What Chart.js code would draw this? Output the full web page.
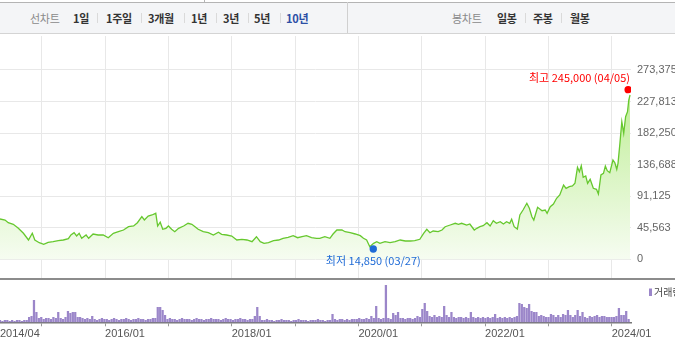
<!DOCTYPE html>
<html><head><meta charset="utf-8">
<script src="https://cdn.jsdelivr.net/npm/chart.js@4.4.1/dist/chart.umd.min.js"></script>
<style>
html,body{margin:0;padding:0;background:#fff;width:675px;height:359px;overflow:hidden;position:relative;}
#bar{position:absolute;left:0;top:2px;width:675px;height:32px;background:#f4f5f7;border-top:1px solid #b4b4b4;border-bottom:1px solid #d4d4d4;box-sizing:border-box;}
.t{position:absolute;top:11px;height:14px;line-height:14px;font-family:"Noto Sans CJK KR","Noto Sans",sans-serif;font-size:11px;white-space:nowrap;color:#333;font-weight:bold;letter-spacing:-0.3px;}
.g{color:#8a8a8a;font-weight:normal;}
.b{color:#2c4fa5;}
.s{position:absolute;top:13px;width:1px;height:10px;background:#dadada;}
#vsep{position:absolute;left:347px;top:2px;width:1px;height:31px;background:#d0d0d0;}
#tick0{position:absolute;left:204px;top:0;width:1px;height:2px;background:#b4b4b4;}
#sep2{position:absolute;left:0;top:278px;width:675px;height:2px;background:#8c8c8c;}
canvas{position:absolute;left:0;}
#main{top:36px;}
#vol{top:279px;}
</style></head>
<body>
<div id="tick0"></div>
<div id="bar"></div>
<div id="vsep"></div>
<span class="t g" style="left:30px">선차트</span>
<span class="t" style="left:73px">1일</span><div class="s" style="left:97px"></div>
<span class="t" style="left:106px">1주일</span><div class="s" style="left:141px"></div>
<span class="t" style="left:148px">3개월</span><div class="s" style="left:184px"></div>
<span class="t" style="left:191px">1년</span><div class="s" style="left:216px"></div>
<span class="t" style="left:223px">3년</span><div class="s" style="left:248px"></div>
<span class="t" style="left:254px">5년</span><div class="s" style="left:280px"></div>
<span class="t b" style="left:286px">10년</span>
<span class="t g" style="left:452px">봉차트</span>
<span class="t" style="left:497px">일봉</span><div class="s" style="left:525px"></div>
<span class="t" style="left:533px">주봉</span><div class="s" style="left:561px"></div>
<span class="t" style="left:570px">월봉</span>
<canvas id="main" width="675" height="243"></canvas>
<div id="sep2"></div>
<canvas id="vol" width="675" height="80"></canvas>
<script>
// ---- data (dates as decimal years) ----
const priceDates = [
2014.34,2014.42,2014.47,2014.55,2014.63,2014.71,2014.79,2014.85,2014.89,2014.96,
2015.03,2015.10,2015.18,2015.26,2015.34,2015.42,2015.46,2015.51,2015.55,2015.59,
2015.63,2015.70,2015.74,2015.81,2015.89,2015.97,2016.05,2016.13,2016.21,2016.29,
2016.37,2016.45,2016.51,2016.58,2016.62,2016.68,2016.74,2016.80,2016.83,2016.87,
2016.91,2016.96,2017.00,2017.05,2017.10,2017.16,2017.24,2017.31,2017.37,2017.42,
2017.47,2017.55,2017.63,2017.71,2017.79,2017.84,2017.92,2018.00,2018.08,2018.16,
2018.24,2018.32,2018.39,2018.45,2018.51,2018.58,2018.66,2018.74,2018.81,2018.89,
2018.97,2019.04,2019.11,2019.18,2019.26,2019.34,2019.39,2019.47,2019.55,2019.60,
2019.66,2019.74,2019.79,2019.87,2019.95,2020.03,2020.08,2020.13,2020.18,2020.24,
2020.29,2020.34,2020.42,2020.50,2020.58,2020.66,2020.74,2020.82,2020.89,2020.97,
2021.03,2021.08,2021.13,2021.18,2021.26,2021.32,2021.37,2021.45,2021.53,2021.58,
2021.63,2021.71,2021.76,2021.83,2021.87,2021.92,2021.97,2022.03,2022.08,2022.13,
2022.18,2022.24,2022.29,2022.34,2022.39,2022.42,2022.46,2022.51,2022.55,2022.60,
2022.66,2022.70,2022.74,2022.77,2022.83,2022.90,2022.95,2022.98,2023.03,2023.08,
2023.13,2023.18,2023.24,2023.28,2023.33,2023.38,2023.42,2023.46,2023.49,2023.52,
2023.55,2023.59,2023.62,2023.66,2023.71,2023.76,2023.79,2023.83,2023.87,2023.90,
2023.93,2023.97,2024.02,2024.05,2024.08,2024.10,2024.13,2024.16,2024.19,2024.22,
2024.25,2024.27,2024.29];
const priceValues = [
58200,56750,52850,50540,44770,37550,27870,37550,27870,23970,
21660,24550,25420,26860,27870,29750,35090,38410,33650,37550,
30330,35090,30330,36540,35090,35090,31190,37550,39860,42310,
47080,48090,52850,61520,56750,62530,63970,66430,48090,53500,
43320,44770,48090,43320,39860,44770,48090,51990,50540,47080,
43320,39860,38410,35090,38990,36100,35090,33650,27870,28880,
27870,25420,32640,25420,23110,23970,26860,27870,30330,31770,
34080,31190,32640,34080,31190,30330,30330,32640,30330,36540,
42310,42310,39860,38410,36540,34080,30330,27870,18200,23110,
25420,23110,25420,23970,25420,27870,26430,26430,26860,28880,
37550,43320,38410,40870,39860,42310,47080,49530,51990,50540,
51990,49530,50980,42310,44770,47080,48520,52850,48090,55740,
51990,54300,50980,54300,51990,57760,47080,43760,63970,71190,
80870,73650,61520,56750,75090,70180,71190,66430,75960,79860,
88090,92860,107300,102530,104840,105850,109750,132860,126500,135170,
118420,120290,109750,115530,102530,101090,94300,121740,124190,134730,
127950,125060,143400,139500,129970,138630,167520,198710,181960,205930,
213150,230050,237270];
const highDate = 2024.26, highValue = 245000, highText = '최고 245,000 (04/05)';
const lowDate = 2020.235, lowValue = 14850, lowText = '최저 14,850 (03/27)';
// biweekly trading volume (relative units)
const volStart = 2014.34, volStep = 14/365.25;
const volumes = [
2,1,2,2,1,2,1,2,2,1,2,2,5,6,22,10,4,5,3,4,4,3,5,4,10,4,3,5,11,9,10,10,5,5,4,3,4,3,6,
3,2,3,4,3,3,2,3,4,3,2,3,3,4,3,2,3,3,4,3,3,2,3,3,4,
4,15,15,12,7,
3,4,3,3,2,3,4,3,3,3,2,3,4,3,3,2,3,3,4,3,3,3,2,3,4,3,3,2,3,3,4,3,3,2,3,3,
6,15,6,
2,2,3,2,2,1,2,2,3,2,2,2,1,2,2,3,2,2,2,1,2,2,2,3,2,2,1,2,2,
8,3,2,3,3,2,3,2,3,3,3,4,3,3,4,3,
6,4,16,4,3,4,37,4,3,9,7,10,4,4,3,4,4,3,4,6,5,13,19,11,6,5,7,5,6,
5,16,7,5,10,5,4,5,5,4,5,4,10,5,4,5,4,5,4,5,4,5,8,4,5,4,5,4,5,4,5,6,
19,18,15,14,18,11,10,10,6,7,6,
5,5,8,7,5,7,5,8,7,12,7,5,7,12,6,10,5,4,6,5,6,7,5,6,6,5,5,5,5,6,14,7,7,11,3];
const gridYears = [2015,2016,2017,2018,2019,2020,2021,2022,2023,2024];
const yTicks = [0,45562.5,91125,136687.5,182250,227812.5,273375];
const xLabelValues = [2014.34,2016,2018,2020,2022,2024];
const xLabelTexts = ['2014/04','2016/01','2018/01','2020/01','2022/01','2024/01'];
const volLegend = '거래량';

// ---- scale ranges ----
const xMin = 2014.34, xMax = 2024.305;
const yMin = -28450, yMax = 322475;
const volMax = 41.3;

const annotPlugin = {
  id:'annot',
  afterDatasetsDraw(chart){
    const ctx = chart.ctx, a = chart.chartArea;
    const hp = chart.getDatasetMeta(1).data[0], lp = chart.getDatasetMeta(2).data[0];
    ctx.save();
    ctx.font = '11px "Noto Sans CJK KR", "Noto Sans", sans-serif';
    ctx.textBaseline = 'middle';
    ctx.fillStyle = '#ff0000'; ctx.textAlign = 'right';
    ctx.fillText(highText, a.right - 1, hp.y - 12);
    ctx.fillStyle = '#1f6bd6'; ctx.textAlign = 'center';
    ctx.fillText(lowText, lp.x, lp.y + 12);
    ctx.restore();
  }
};

new Chart(document.getElementById('main'), {
  type:'line',
  data:{datasets:[
    {data: priceDates.map((d,i)=>({x:d,y:priceValues[i]})), borderColor:'#66c82e', borderWidth:1.3,
     pointRadius:0, tension:0, fill:{value:0}, order:3,
     backgroundColor:(c)=>{const ch=c.chart; if(!ch.chartArea) return 'rgba(0,0,0,0)'; const ys=ch.scales.y;
       const g=ch.ctx.createLinearGradient(0, ys.getPixelForValue(Math.max(...priceValues)), 0, ys.getPixelForValue(0));
       g.addColorStop(0,'#c0ee98'); g.addColorStop(1,'#f6fcf1'); return g;}},
    {data:[{x:highDate,y:highValue}], showLine:false, pointRadius:3.7, pointBackgroundColor:'#ff0000', pointBorderWidth:0, order:1},
    {data:[{x:lowDate,y:lowValue}], showLine:false, pointRadius:3.7, pointBackgroundColor:'#1f6bd6', pointBorderWidth:0, order:2}
  ]},
  options:{
    responsive:false, animation:false, events:[],
    layout:{padding:0, autoPadding:false},
    plugins:{legend:{display:false}, tooltip:{enabled:false}},
    scales:{
      x:{type:'linear', min:xMin, max:xMax, grid:{color:'#e8e8e8', drawTicks:false}, border:{display:false},
         ticks:{display:false}, afterBuildTicks:s=>{s.ticks=gridYears.map(v=>({value:v}));},
         afterFit:s=>{s.height=0; s.paddingLeft=0; s.paddingRight=0;}},
      y:{position:'right', min:yMin, max:yMax, grid:{color:'#e8e8e8', drawTicks:false}, border:{display:false},
         ticks:{padding:6, color:'#666', font:{family:'Liberation Sans', size:11}, callback:v=>Math.round(v).toLocaleString('en-US')},
         afterBuildTicks:s=>{s.ticks=yTicks.map(v=>({value:v}));},
         afterFit:s=>{s.width=44; s.paddingTop=0; s.paddingBottom=0;}}
    }
  },
  plugins:[annotPlugin]
});

const legendPlugin = {
  id:'volLegend',
  afterDraw(chart){
    const ctx = chart.ctx, a = chart.chartArea;
    ctx.save();
    ctx.fillStyle = '#9b86c9';
    ctx.fillRect(a.right + 18, a.top + 7.5, 3, 7.5);
    ctx.fillStyle = '#444';
    ctx.font = '10px "Noto Sans CJK KR", sans-serif';
    ctx.textBaseline = 'middle'; ctx.textAlign = 'left';
    ctx.fillText(volLegend, a.right + 23, a.top + 11.5);
    ctx.restore();
  }
};

new Chart(document.getElementById('vol'), {
  type:'bar',
  data:{datasets:[{data: volumes.map((v,i)=>({x:volStart + i*volStep, y:v})), backgroundColor:'#9b86c9',
    barThickness:1.6, categoryPercentage:1, barPercentage:1}]},
  options:{
    responsive:false, animation:false, events:[],
    layout:{padding:{top:2, right:44, left:0, bottom:0}, autoPadding:false},
    plugins:{legend:{display:false}, tooltip:{enabled:false}},
    scales:{
      x:{type:'linear', min:xMin, max:xMax, offset:false,
         grid:{offset:false, drawOnChartArea:false, drawTicks:true, tickLength:4, color:c=>c.index===0?'rgba(0,0,0,0)':'#9a9a9a'},
         border:{color:'#777', width:1.5},
         ticks:{padding:1, align:'start', maxRotation:0, autoSkip:false, color:'#555', font:{family:'Liberation Sans', size:11},
           callback:v=>{const k=xLabelValues.indexOf(v); return k>=0?xLabelTexts[k]:'';}},
         afterBuildTicks:s=>{s.ticks=[xMin,...gridYears].map(v=>({value:v}));},
         afterFit:s=>{s.height=80-43.3; s.paddingLeft=0; s.paddingRight=0;}},
      y:{display:false, min:0, max:volMax}
    }
  },
  plugins:[legendPlugin]
});
</script>
</body></html>
